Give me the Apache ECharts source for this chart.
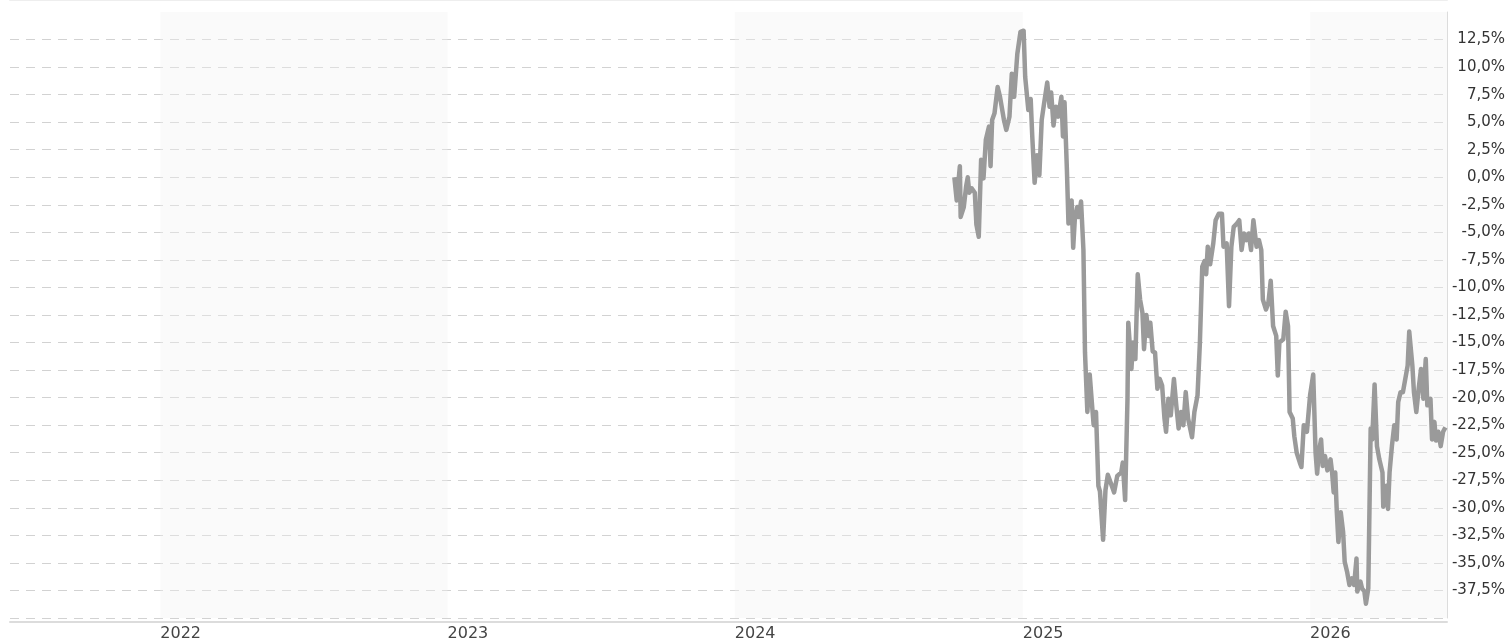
<!DOCTYPE html>
<html>
<head>
<meta charset="utf-8">
<script src="https://cdn.jsdelivr.net/npm/echarts@6/dist/echarts.min.js"></script>
<style>
  html, body { margin: 0; padding: 0; background: #fff; }
  #chart { width: 1511px; height: 642px; }
</style>
</head>
<body>
<div id="chart"></div>
<script>
// axis range and shaded year bands
const axisStart = '2021-06-24';
const axisEnd = '2026-06-24';
const shadedYears = [
  ['2022-01-01', '2023-01-01'],
  ['2024-01-01', '2025-01-01'],
  ['2026-01-01', '2026-06-24']
];

// performance in %
const dates = [
  '2024-10-06','2024-10-09','2024-10-13','2024-10-14','2024-10-18','2024-10-21','2024-10-23','2024-10-25','2024-10-28','2024-11-01',
  '2024-11-03','2024-11-06','2024-11-09','2024-11-12','2024-11-15','2024-11-19','2024-11-21','2024-11-23','2024-11-26','2024-11-30',
  '2024-12-03','2024-12-08','2024-12-11','2024-12-15','2024-12-18','2024-12-21','2024-12-25','2024-12-29','2025-01-02','2025-01-04',
  '2025-01-08','2025-01-11','2025-01-13','2025-01-16','2025-01-19','2025-01-22','2025-01-25','2025-01-28','2025-02-01','2025-02-04',
  '2025-02-06','2025-02-09','2025-02-12','2025-02-15','2025-02-19','2025-02-21','2025-02-23','2025-02-26','2025-02-28','2025-03-04',
  '2025-03-06','2025-03-08','2025-03-11','2025-03-13','2025-03-16','2025-03-19','2025-03-21','2025-03-24','2025-03-27','2025-03-30',
  '2025-04-01','2025-04-04','2025-04-07','2025-04-09','2025-04-13','2025-04-16','2025-04-19','2025-04-24','2025-04-27','2025-05-01',
  '2025-05-06','2025-05-08','2025-05-11','2025-05-14','2025-05-15','2025-05-19','2025-05-21','2025-05-24','2025-05-27','2025-05-30',
  '2025-06-02','2025-06-04','2025-06-07','2025-06-10','2025-06-12','2025-06-15','2025-06-18','2025-06-21','2025-06-24','2025-06-27',
  '2025-06-30','2025-07-02','2025-07-05','2025-07-08','2025-07-12','2025-07-15','2025-07-18','2025-07-21','2025-07-24','2025-07-27',
  '2025-07-30','2025-08-04','2025-08-07','2025-08-11','2025-08-14','2025-08-17','2025-08-20','2025-08-22','2025-08-24','2025-08-27',
  '2025-08-31','2025-09-03','2025-09-07','2025-09-11','2025-09-13','2025-09-17','2025-09-20','2025-09-23','2025-09-26','2025-09-30',
  '2025-10-03','2025-10-06','2025-10-09','2025-10-12','2025-10-15','2025-10-18','2025-10-21','2025-10-25','2025-10-28','2025-10-31',
  '2025-11-02','2025-11-06','2025-11-09','2025-11-12','2025-11-15','2025-11-19','2025-11-21','2025-11-23','2025-11-28','2025-12-01',
  '2025-12-04','2025-12-06','2025-12-10','2025-12-12','2025-12-15','2025-12-19','2025-12-21','2025-12-24','2025-12-28','2026-01-01',
  '2026-01-05','2026-01-08','2026-01-10','2026-01-12','2026-01-15','2026-01-17','2026-01-20','2026-01-23','2026-01-27','2026-01-29',
  '2026-01-31','2026-02-02','2026-02-04','2026-02-06','2026-02-09','2026-02-12','2026-02-14','2026-02-17','2026-02-20','2026-02-23',
  '2026-02-26','2026-03-01','2026-03-02','2026-03-06','2026-03-08','2026-03-11','2026-03-13','2026-03-16','2026-03-19','2026-03-21',
  '2026-03-24','2026-03-27','2026-03-30','2026-04-03','2026-04-04','2026-04-08','2026-04-10','2026-04-12','2026-04-15','2026-04-18',
  '2026-04-21','2026-04-23','2026-04-26','2026-04-29','2026-05-02','2026-05-05','2026-05-07','2026-05-11','2026-05-13','2026-05-16',
  '2026-05-19','2026-05-22','2026-05-25','2026-05-28','2026-05-30','2026-06-03','2026-06-05','2026-06-08','2026-06-10','2026-06-13',
  '2026-06-16','2026-06-19','2026-06-22'
];
const perf = [
  0.0, -2.1, 1.0, -3.6, -2.7, -0.8, 0.0, -1.4, -1.0, -1.4,
  -4.3, -5.4, 1.6, -0.1, 3.4, 4.6, 1.0, 5.2, 5.8, 8.2,
  7.3, 5.2, 4.3, 5.5, 9.4, 7.3, 11.2, 13.2, 13.3, 9.1,
  6.1, 7.1, 3.7, -0.5, 2.0, 0.2, 5.2, 6.7, 8.6, 6.4,
  7.7, 4.7, 6.4, 5.5, 7.3, 3.7, 6.8, 0.7, -4.2, -2.1,
  -6.4, -3.9, -2.7, -3.6, -2.2, -6.6, -15.9, -21.3, -17.9, -20.7,
  -22.5, -21.3, -28.0, -28.5, -32.9, -28.4, -27.0, -28.0, -28.6, -27.1,
  -26.8, -25.9, -29.3, -20.1, -13.2, -17.4, -15.0, -16.5, -8.8, -11.1,
  -12.3, -15.6, -12.5, -14.4, -13.2, -15.8, -15.9, -19.2, -18.3, -18.9,
  -21.9, -23.1, -20.1, -21.6, -18.3, -20.7, -22.8, -21.3, -22.5, -19.5,
  -21.9, -23.6, -21.3, -19.8, -15.0, -8.1, -7.6, -8.8, -6.3, -7.9,
  -6.0, -3.9, -3.3, -3.3, -6.3, -6.0, -11.7, -6.3, -4.5, -4.2,
  -3.9, -6.6, -5.1, -5.7, -5.1, -6.6, -3.9, -6.3, -5.7, -6.6,
  -11.1, -12.0, -11.4, -9.4, -13.5, -14.4, -18.0, -15.0, -14.7, -12.2,
  -13.5, -21.3, -21.9, -23.5, -25.0, -25.9, -26.3, -22.5, -23.1, -19.8,
  -17.9, -25.0, -26.9, -25.0, -23.8, -26.2, -25.3, -26.6, -25.6, -26.8,
  -28.6, -26.8, -30.4, -33.1, -30.4, -32.2, -34.9, -35.8, -37.0, -36.4,
  -37.0, -34.6, -37.6, -36.7, -37.3, -37.6, -38.7, -37.3, -22.8, -23.8,
  -18.8, -24.4, -25.6, -26.8, -29.9, -28.0, -30.1, -26.8, -24.4, -22.5,
  -23.8, -20.4, -19.5, -19.5, -18.3, -17.1, -14.0, -17.1, -19.5, -21.3,
  -19.2, -17.4, -20.1, -16.5, -20.7, -20.1, -23.8, -22.2, -23.9, -23.1,
  -24.4, -23.1, -22.7
];

const chart = echarts.init(document.getElementById('chart'));
const yearMs = 3600 * 24 * 1000 * 365;

const option = {
  animation: false,
  grid: { left: 10, right: 64, top: 12, bottom: 22, containLabel: false },
  xAxis: [
    {
      type: 'time',
      min: axisStart,
      max: axisEnd,
      minInterval: yearMs,
      maxInterval: yearMs * 1.01,
      offset: 4,
      axisLine: { show: true, onZero: false, lineStyle: { color: '#dcdcdc', width: 2 } },
      axisTick: { show: false },
      splitLine: { show: false },
      axisLabel: {
        formatter: '{yyyy}',
        align: 'left',
        margin: 4,
        showMinLabel: false,
        showMaxLabel: false,
        color: '#444',
        fontFamily: 'DejaVu Sans',
        fontSize: 16
      }
    },
    {
      type: 'time',
      min: axisStart,
      max: axisEnd,
      position: 'top',
      offset: 12,
      axisLine: { show: true, onZero: false, lineStyle: { color: '#eee', width: 2 } },
      axisTick: { show: false },
      axisLabel: { show: false },
      splitLine: { show: false }
    }
  ],
  yAxis: {
    type: 'value',
    position: 'right',
    min: -40,
    max: 15,
    interval: 2.5,
    axisLine: { show: true, onZero: false, lineStyle: { color: '#dcdcdc', width: 1 } },
    axisTick: { show: false },
    splitLine: {
      show: true,
      showMaxLine: false,
      lineStyle: { color: '#d2d2d2', type: [9, 7], width: 1 }
    },
    axisLabel: {
      showMinLabel: false,
      showMaxLabel: false,
      align: 'right',
      margin: 58,
      padding: [5, 0, 0, 0],
      color: '#333',
      fontFamily: 'DejaVu Sans',
      fontSize: 15,
      formatter: v => v.toFixed(1).replace('.', ',') + '%'
    }
  },
  series: [
    {
      // year bands, drawn above the grid lines but below the curve
      type: 'line',
      data: [],
      z: 1,
      silent: true,
      markArea: {
        silent: true,
        itemStyle: { color: 'rgba(240,240,240,0.36)' },
        data: shadedYears.map(r => [{ xAxis: r[0] }, { xAxis: r[1] }])
      }
    },
    {
      name: 'Performance',
      type: 'line',
      z: 3,
      showSymbol: false,
      data: dates.map((d, i) => [d, perf[i]]),
      lineStyle: { color: '#9a9a9a', width: 4.5, join: 'round' },
      itemStyle: { color: '#9a9a9a' }
    }
  ]
};

chart.setOption(option);
</script>
</body>
</html>
